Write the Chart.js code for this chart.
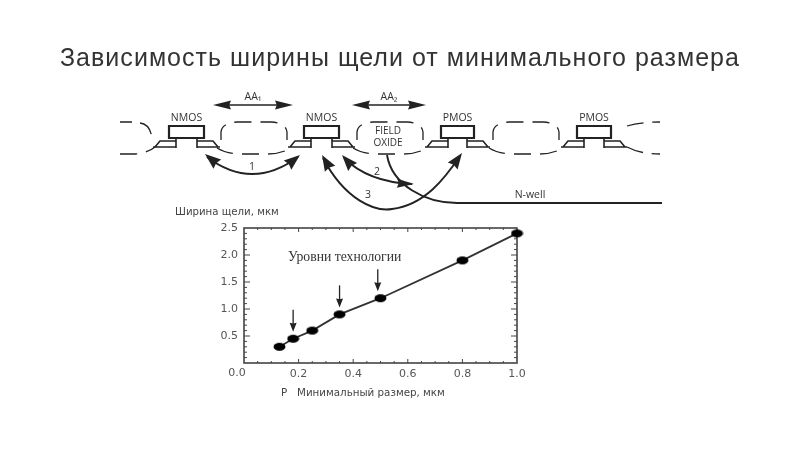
<!DOCTYPE html>
<html>
<head>
<meta charset="utf-8">
<style>
html, body { margin: 0; padding: 0; background: #fff; }
#wrap { width: 800px; height: 450px; position: relative; overflow: hidden; }
#title { position: absolute; left: 0; top: 42px; width: 800px; text-align: center; color: #333;
         font: 25px "Liberation Sans"; line-height: 30px; white-space: nowrap; letter-spacing: 1.03px; z-index: 1; }
canvas { filter: blur(0.45px); }
</style>
<script src="https://cdn.jsdelivr.net/npm/chart.js@4"></script>
</head>
<body>
<div id="wrap">
<div id="title"></div>
<canvas id="chart" width="800" height="450"></canvas>
</div>
<script>
const titleText = 'Зависимость ширины щели от минимального размера';
const sizes = [0.13, 0.18, 0.25, 0.35, 0.5, 0.8, 1.0];
const widths = [0.3, 0.45, 0.6, 0.9, 1.2, 1.9, 2.4];
const xTicks = [0, 0.2, 0.4, 0.6, 0.8, 1.0];
const yTicks = [0, 0.5, 1.0, 1.5, 2.0, 2.5];
const techLevels = [[0.18, 0.45], [0.35, 0.9], [0.49, 1.2]];

const ink = '#222';

document.getElementById('title').textContent = titleText;

// black oval marker
const dot = document.createElement('canvas');
dot.width = 13; dot.height = 10;
const dc = dot.getContext('2d');
dc.fillStyle = '#000';
dc.beginPath();
dc.ellipse(6.5, 5, 6, 4, 0, 0, Math.PI * 2);
dc.fill();

function head(c, x, y, ang, len, wid) {
    c.save();
    c.translate(x, y);
    c.rotate(ang);
    c.beginPath();
    c.moveTo(0, 0);
    c.lineTo(-len, -wid / 2);
    c.lineTo(-len * 0.9, 0);
    c.lineTo(-len, wid / 2);
    c.closePath();
    c.fillStyle = ink;
    c.fill();
    c.restore();
}

function stroke(c, w, build) {
    c.strokeStyle = ink;
    c.lineWidth = w;
    c.beginPath();
    build();
    c.stroke();
}

function label(c, text, x, y, font, color, align) {
    c.font = font;
    c.fillStyle = color || '#333';
    c.textAlign = align || 'center';
    c.textBaseline = 'middle';
    c.fillText(text, x, y);
}

function transistor(c, name, gl, gr) {
    label(c, name, (gl + gr) / 2, 118, '10.5px "Open Sans"', '#333');
    stroke(c, 2.2, () => c.rect(gl, 126, gr - gl, 12));
    stroke(c, 1.6, () => {
        c.moveTo(gl - 14, 147); c.lineTo(gl - 9, 141); c.lineTo(gl + 7, 141);
        c.moveTo(gl + 7, 138); c.lineTo(gl + 7, 148); c.moveTo(gl + 7, 147); c.lineTo(gl - 16, 147);
        c.moveTo(gr + 14, 147); c.lineTo(gr + 9, 141); c.lineTo(gr - 7, 141);
        c.moveTo(gr - 7, 138); c.lineTo(gr - 7, 148); c.moveTo(gr - 7, 147); c.lineTo(gr + 16, 147);
    });
}

function oxide(c, x0, x1) {
    c.setLineDash([17, 9]);
    stroke(c, 1.3, () => {
        c.moveTo(x0, 140); c.lineTo(x0, 132); c.quadraticCurveTo(x0 + 1, 123, x0 + 16, 122);
        c.lineTo(x1 - 16, 122); c.quadraticCurveTo(x1 - 1, 123, x1, 132); c.lineTo(x1, 140);
        c.moveTo(x0 - 4, 148); c.quadraticCurveTo(x0 + 6, 154, x0 + 20, 154);
        c.lineTo(x1 - 20, 154); c.quadraticCurveTo(x1 - 6, 154, x1 + 4, 148);
    });
    c.setLineDash([]);
}

function span(c, text, x0, x1, y) {
    stroke(c, 1.6, () => { c.moveTo(x0 + 10, y); c.lineTo(x1 - 10, y); });
    head(c, x0, y, Math.PI, 18, 9);
    head(c, x1, y, 0, 18, 9);
    label(c, text, (x0 + x1) / 2, y - 8, '10.5px "Open Sans"', '#333');
}

// the device cross-section above the plot
function drawDiagram(c) {
    span(c, 'AA₁', 213, 293, 105);
    span(c, 'AA₂', 352, 426, 105);

    transistor(c, 'NMOS', 169, 204);
    transistor(c, 'NMOS', 304, 339);
    transistor(c, 'PMOS', 441, 474);
    transistor(c, 'PMOS', 577, 611);

    oxide(c, 221, 287);
    oxide(c, 357, 423);
    oxide(c, 493, 559);
    c.setLineDash([17, 9]);
    stroke(c, 1.3, () => {
        c.moveTo(120, 122); c.lineTo(132, 122); c.moveTo(140, 123); c.quadraticCurveTo(150, 124, 152, 138);
        c.moveTo(120, 154); c.lineTo(135, 154); c.quadraticCurveTo(148, 153, 155, 147);
        c.moveTo(627, 126); c.quadraticCurveTo(640, 122, 660, 122);
        c.moveTo(627, 147); c.quadraticCurveTo(640, 154, 660, 154);
    });
    c.setLineDash([]);

    label(c, 'FIELD', 388, 131, '10px "Open Sans"', '#333');
    label(c, 'OXIDE', 388, 143, '10px "Open Sans"', '#333');

    // arrow 1
    stroke(c, 1.9, () => { c.moveTo(207, 157); c.quadraticCurveTo(252, 191, 298, 157); });
    head(c, 205, 154, -2.45, 16, 12);
    head(c, 300, 155, -0.68, 16, 12);
    label(c, '1', 252, 167, '10.5px "Open Sans"', '#333');

    // arrow 2
    stroke(c, 1.9, () => { c.moveTo(344, 158); c.quadraticCurveTo(368, 182, 412, 184); });
    head(c, 342, 155, -2.3, 16, 12);
    head(c, 414, 184, 0.05, 17, 9);
    label(c, '2', 377, 172, '10.5px "Open Sans"', '#333');

    // arrow 3
    stroke(c, 1.9, () => {
        c.moveTo(323, 158);
        c.bezierCurveTo(345, 200, 375, 212, 392, 209);
        c.bezierCurveTo(425, 205, 445, 178, 460, 156);
    });
    head(c, 322, 155, -2.1, 16, 12);
    head(c, 462, 153, -0.95, 16, 12);
    label(c, '3', 368, 195, '10.5px "Open Sans"', '#333');

    // N-well boundary
    stroke(c, 1.9, () => {
        c.moveTo(387, 155);
        c.bezierCurveTo(392, 185, 425, 203, 457, 203);
        c.lineTo(662, 203);
    });
    label(c, 'N-well', 530, 195, '10.5px "Open Sans"', '#333');
}

const scene = {
    id: 'scene',
    beforeDatasetsDraw(chart) {
        const c = chart.ctx;
        const { x, y } = chart.scales;
        const area = chart.chartArea;
        c.save();
        drawDiagram(c);

        // plot frame and inward ticks on all four sides
        c.strokeStyle = '#444';
        c.lineWidth = 1.6;
        c.strokeRect(area.left, area.top, area.width, area.height);
        c.lineWidth = 1;
        c.beginPath();
        for (let i = 1; i < 20; i++) {
            const px = x.getPixelForValue(i / 20);
            const len = i % 4 === 0 ? 4 : 2;
            c.moveTo(px, area.bottom); c.lineTo(px, area.bottom - len);
            c.moveTo(px, area.top); c.lineTo(px, area.top + len);
        }
        for (let i = 1; i < 25; i++) {
            const py = y.getPixelForValue(i / 10);
            const len = i % 5 === 0 ? 6 : 3;
            c.moveTo(area.left, py); c.lineTo(area.left + len, py);
            c.moveTo(area.right, py); c.lineTo(area.right - len, py);
        }
        c.stroke();

        label(c, '0.0', x.getPixelForValue(0) - 7, 373, '11px "DejaVu Sans"', '#555');
        label(c, 'Ширина щели, мкм', 175, 212, '10.2px "DejaVu Sans"', '#444', 'left');
        label(c, 'P   Минимальный размер, мкм', 281, 393, '10.3px "DejaVu Sans"', '#444', 'left');
        label(c, 'Уровни технологии', 288, 257, '13.7px "Liberation Serif"', '#333', 'left');
        c.restore();
    },
    afterDatasetsDraw(chart) {
        const c = chart.ctx;
        const { x, y } = chart.scales;
        c.save();
        c.strokeStyle = '#222';
        c.lineWidth = 1.3;
        techLevels.forEach(([sx, wy]) => {
            const px = x.getPixelForValue(sx);
            const py = y.getPixelForValue(wy);
            c.beginPath();
            c.moveTo(px, py - 29);
            c.lineTo(px, py - 14);
            c.stroke();
            head(c, px, py - 7, Math.PI / 2, 9, 7);
        });
        c.restore();
    }
};

new Chart(document.getElementById('chart').getContext('2d'), {
    type: 'line',
    data: {
        datasets: [{
            data: sizes.map((s, i) => ({ x: s, y: widths[i] })),
            borderColor: '#333',
            borderWidth: 1.8,
            tension: 0,
            pointStyle: dot,
            clip: false
        }]
    },
    options: {
        responsive: false,
        animation: false,
        layout: { padding: { left: 214, right: 283, top: 228, bottom: 0 } },
        plugins: {
            legend: { display: false },
            tooltip: { enabled: false }
        },
        scales: {
            x: {
                type: 'linear',
                min: 0,
                max: 1,
                afterFit: s => { s.height = 87; },
                afterBuildTicks: s => { s.ticks = xTicks.map(v => ({ value: v })); },
                grid: { display: false },
                border: { display: false },
                ticks: {
                    padding: -3,
                    color: '#555',
                    font: { family: '"DejaVu Sans"', size: 11 },
                    maxRotation: 0,
                    callback: v => v === 0 ? '' : v.toFixed(1)
                }
            },
            y: {
                min: 0,
                max: 2.5,
                afterFit: s => { s.width = 30; },
                afterBuildTicks: s => { s.ticks = yTicks.map(v => ({ value: v })); },
                grid: { display: false },
                border: { display: false },
                ticks: {
                    padding: -2,
                    color: '#555',
                    font: { family: '"DejaVu Sans"', size: 11 },
                    callback: v => v === 0 ? '' : v.toFixed(1)
                }
            }
        }
    },
    plugins: [scene]
});
</script>
</body>
</html>
